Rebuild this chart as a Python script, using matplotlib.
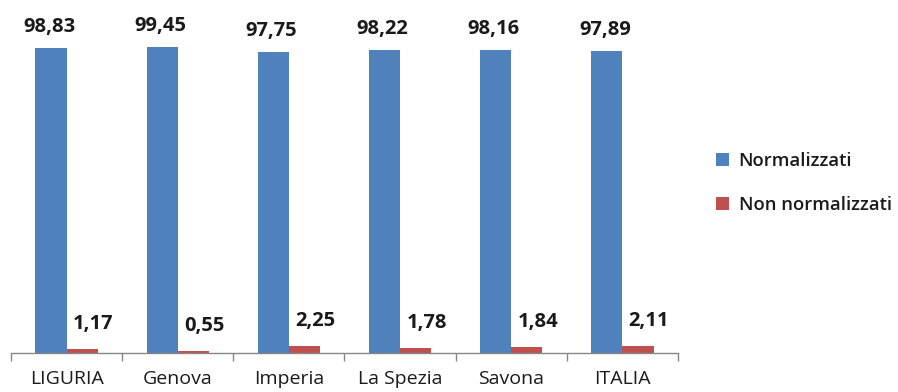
import matplotlib
matplotlib.use("Agg")
import matplotlib.pyplot as plt
import numpy as np

categories = ["LIGURIA", "Genova", "Imperia", "La Spezia", "Savona", "ITALIA"]
normalizzati = [98.83, 99.45, 97.75, 98.22, 98.16, 97.89]
non_normalizzati = [1.17, 0.55, 2.25, 1.78, 1.84, 2.11]
series_names = ["Normalizzati", "Non normalizzati"]

BLUE = "#4F81BD"
RED = "#C0504D"
FONT = ["Open Sans", "DejaVu Sans"]
TEXT = "#1a1a1a"

plt.rcParams["font.family"] = FONT

fig = plt.figure(figsize=(8.98, 3.92), dpi=100)
ax = fig.add_axes([11 / 898, 39 / 392, 667 / 898, 339 / 392])

x = np.arange(len(categories))
w = 0.28
b1 = ax.bar(x - w / 2, normalizzati, w, color=BLUE, label=series_names[0])
b2 = ax.bar(x + w / 2, non_normalizzati, w, color=RED, label=series_names[1])

def fmt(v):
    return f"{v:.2f}".replace(".", ",")

for rect, v in zip(b1, normalizzati):
    ax.annotate(fmt(v), (rect.get_x() + rect.get_width() / 2, v),
                xytext=(-2, 21), textcoords="offset pixels",
                ha="center", va="center", fontsize=14.5, fontweight="bold", color=TEXT)
for rect, v in zip(b2, non_normalizzati):
    ax.annotate(fmt(v), (rect.get_x() + rect.get_width() / 2, v),
                xytext=(11, 25), textcoords="offset pixels",
                ha="center", va="center", fontsize=14.5, fontweight="bold", color=TEXT)

ax.set_xlim(-0.5, len(categories) - 0.5)
ax.set_ylim(0, 110)
ax.set_yticks([])
for s in ["left", "right", "top"]:
    ax.spines[s].set_visible(False)
ax.spines["bottom"].set_color("#868686")
ax.spines["bottom"].set_linewidth(1.0)

ax.set_xticks(x)
ax.set_xticklabels(categories, fontsize=14, color=TEXT)
ax.tick_params(axis="x", length=0, pad=12)
ax.set_xticks(np.arange(len(categories) + 1) - 0.5, minor=True)
ax.tick_params(axis="x", which="minor", length=6, color="#868686", width=1)

leg = fig.legend(handles=[b1, b2], labels=series_names,
                 loc="center left", bbox_to_anchor=(716 / 898, 1 - 183 / 392),
                 frameon=False, handlelength=0.72, handleheight=0.72,
                 handletextpad=0.5, labelspacing=1.4,
                 borderpad=0, borderaxespad=0,
                 prop={"family": FONT, "size": 13.3, "weight": "semibold"})
for t in leg.get_texts():
    t.set_color(TEXT)

fig.savefig("out.png", dpi=100)
